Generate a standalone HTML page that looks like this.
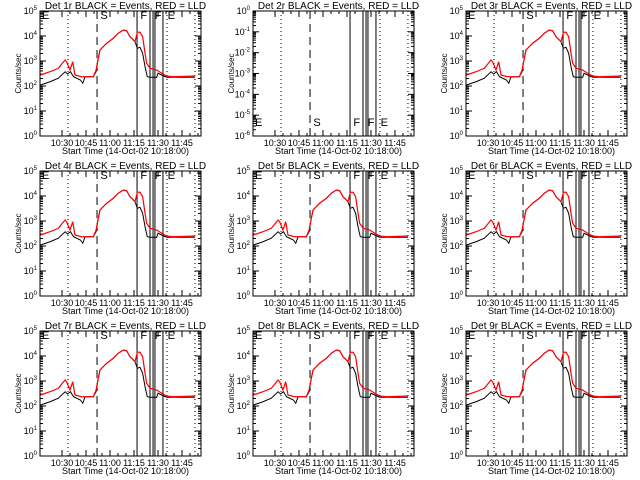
<!DOCTYPE html>
<html><head><meta charset="utf-8"><style>
html,body{margin:0;padding:0;background:#fff;width:640px;height:480px;overflow:hidden}
svg text{font-family:"Liberation Sans",sans-serif;fill:#000}
</style></head><body>
<svg id="c" width="640" height="480" viewBox="0 0 640 480" xmlns="http://www.w3.org/2000/svg"></svg>
<script>
// data: minutes after 10:00, log10(counts/sec)
const detectors = ['1r','2r','3r','4r','5r','6r','7r','8r','9r'];
const redT = [16.5,22.5,27.7,31.9,32.9,35,36.7,38.1,42.3,49.6,51.3,52.1,53.75,57.9,62.1,65.2,68.3,70.4,72.5,74.6,75.6,77.1,78.75,80.4,81.9,82.9,85,89.2,92.3,95.4,99.6,113.1];
const redV = [2.44,2.57,2.71,3.04,2.97,2.64,2.97,2.44,2.37,2.37,2.64,2.91,3.44,3.71,3.91,4.11,4.24,4.21,3.97,3.84,3.77,4.15,4.15,3.97,3.31,2.91,2.71,2.64,2.51,2.4,2.37,2.4];
const blackT = [16.5,22.5,27.7,31.9,33.5,35.3,37.2,41.5,43,44.4,49.6,51.3,52.1,53.75,57.9,62.1,65.2,68.3,70.4,72.5,74.6,75.6,77.1,78.75,80.4,81.9,83.3,85,86.5,89.2,90,92.3,95.4,113.1];
const blackV = [2.04,2.17,2.31,2.57,2.48,2.57,2.37,2.24,2.11,2.37,2.37,2.57,2.91,3.44,3.71,3.91,4.11,4.24,4.21,3.97,3.84,3.77,3.51,3.55,3.31,2.77,2.37,2.35,2.35,2.35,2.51,2.44,2.35,2.35];
const tickLabels = ['10:30','10:45','11:00','11:15','11:30','11:45'];
const tickMins = [30,45,60,75,90,105];
const yLabels = ['0','1','2','3','4','5'];
const y2Labels = ['0','-1','-2','-3','-4','-5','-6'];
const vlines = [[33.75,'dot'],[51.9,'dash'],[76.9,'solid'],[85,'solid'],[86.9,'solid'],[88.1,'solid'],[93.1,'solid'],[95.6,'dot'],[113.1,'dot']];
const letters = [['E',17.5],['S',54],['F',79],['F',88],['E',96]];

const NS='http://www.w3.org/2000/svg';
const svg=document.getElementById('c');
function el(tag,attrs,parent){const e=document.createElementNS(NS,tag);for(const k in attrs)e.setAttribute(k,attrs[k]);(parent||svg).appendChild(e);return e;}
detectors.forEach((d,i)=>{
  const ox=(i%3)*213, oy=Math.floor(i/3)*160;
  const L=ox+40,R=ox+201,T=oy+11,B=oy+136;
  const xs=t=>ox+62+(t-30)*1.6;
  const empty=d==='2r';
  const nd=empty?6:5;
  const ys=v=>B-v*(125/nd);
  const g=el('g',{});
  
  
  const tt=el('text',{x:(L+R)/2+5,y:oy+9,'font-size':'10','text-anchor':'middle'},g);
  tt.textContent='Det '+d+' BLACK = Events, RED = LLD';
  
  
  const yl=el('text',{x:0,y:0,'font-size':'8','text-anchor':'middle',transform:`translate(${ox+21},${(T+B)/2}) rotate(-90)`},g);
  yl.textContent='Counts/sec';
  
  
  const xl=el('text',{x:(L+R)/2+5,y:oy+154,'font-size':'9','text-anchor':'middle'},g);
  xl.textContent='Start Time (14-Oct-02 10:18:00)';
  
  
  // y ticks
  for(let k=0;k<=nd;k++){
    const y=ys(k);
    el('line',{x1:L,x2:L+6,y1:y,y2:y,stroke:'#000'},g);
    el('line',{x1:R,x2:R-6,y1:y,y2:y,stroke:'#000'},g);
    if(k<nd){for(let m=2;m<10;m++){const yy=ys(k+Math.log10(m));el('line',{x1:L,x2:L+3,y1:yy,y2:yy,stroke:'#000'},g);el('line',{x1:R,x2:R-3,y1:yy,y2:yy,stroke:'#000'},g);}}
    const lab=el('text',{x:L-3,y:y+3,'font-size':'9','text-anchor':'end'},g);
    lab.textContent='10';
    const sp=el('tspan',{'font-size':'6',dy:'-4'},lab);
    sp.textContent=empty?y2Labels[nd-k]:yLabels[k];
  }
  tickMins.forEach((m,j)=>{
    const x=xs(m);
    el('line',{x1:x,x2:x,y1:B,y2:B-6,stroke:'#000'},g);
    el('line',{x1:x,x2:x,y1:T,y2:T+6,stroke:'#000'},g);
    for(let q=1;q<3;q++){const xx=xs(m+5*q);if(xx<R){el('line',{x1:xx,x2:xx,y1:B,y2:B-3,stroke:'#000'},g);el('line',{x1:xx,x2:xx,y1:T,y2:T+3,stroke:'#000'},g);}}
    const t=el('text',{x:x,y:oy+146,'font-size':'9','text-anchor':'middle'},g);
    t.textContent=tickLabels[j];
  });
  vlines.forEach(([t,s])=>{
    const x=xs(t);
    const a={x1:x,x2:x,y1:T,y2:B,stroke:'#000','stroke-width':'1'};
    if(s==='dot')a['stroke-dasharray']='1,3';
    if(s==='dash')a['stroke-dasharray']='8,5';
    el('line',a,g);
  });
  letters.forEach(([c,t])=>{
    const tx=el('text',{x:xs(t),y:empty?oy+126:oy+19,'font-size':'11'},g);
    tx.textContent=c;
  });
  if(!empty){
    const bp=el('polyline',{points:blackT.map((t,k)=>xs(t)+','+ys(blackV[k])).join(' '),fill:'none',stroke:'#000','stroke-width':'1'},g);
    
    
    const rp=el('polyline',{points:redT.map((t,k)=>xs(t)+','+ys(redV[k])).join(' '),fill:'none',stroke:'#f00','stroke-width':'1.2'},g);
    
    
  }
  el('rect',{x:L,y:T,width:R-L,height:B-T,fill:'none',stroke:'#000'},g);
});
</script>
</body></html>
